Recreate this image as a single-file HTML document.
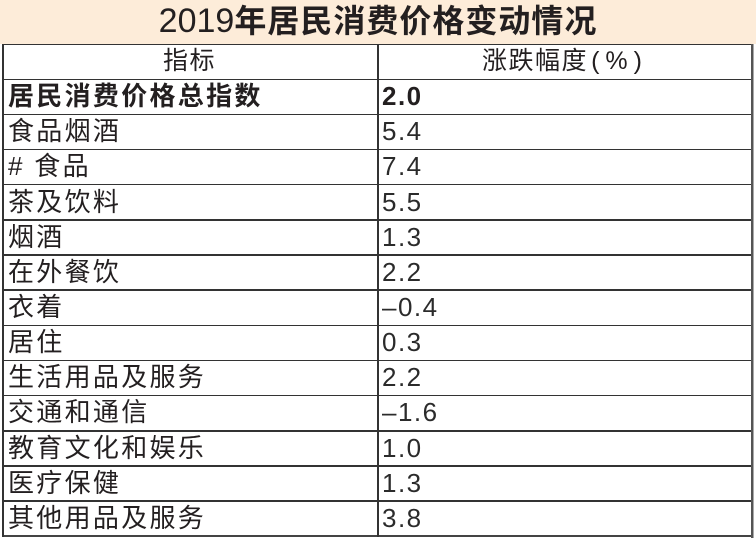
<!DOCTYPE html>
<html>
<head>
<meta charset="utf-8">
<style>
  html,body{margin:0;padding:0;background:#fff;}
  #c{position:relative;width:756px;height:541px;overflow:hidden;background:#fff;
     font-family:"Liberation Sans","Noto Sans CJK SC",sans-serif;color:#231f20;}
  .title{position:absolute;left:0;top:0;width:756px;height:44px;background:#fdecd9;}
  .title span.t{position:absolute;left:0;width:756px;top:-1px;height:44px;line-height:44px;text-align:center;
     font-size:32px;font-weight:bold;letter-spacing:1px;}
  .title span.t b{font-weight:normal;font-size:34px;letter-spacing:0;}
  .h{position:absolute;background:#333;height:1.5px;}
  .v{position:absolute;background:#333;width:1.5px;}
  .cell{position:absolute;height:35px;line-height:35px;white-space:nowrap;font-size:26px;letter-spacing:2.3px;}
  .val{position:absolute;height:35px;line-height:35px;white-space:nowrap;font-size:26px;letter-spacing:1.5px;color:#2b2b2b;left:382px;}
  .hd{position:absolute;top:44px;height:35px;line-height:35px;font-size:25px;text-align:center;letter-spacing:1.5px;}
</style>
</head>
<body>
<div id="c">
  <div class="title"><span class="t"><b>2019</b>年居民消费价格变动情况</span></div>

  <!-- grid lines -->
  <div class="h" style="left:2px;width:751px;top:43.5px;"></div>
  <div class="h" style="left:2px;width:751px;top:78.5px;"></div>
  <div class="h" style="left:2px;width:751px;top:113.6px;"></div>
  <div class="h" style="left:2px;width:751px;top:148.8px;"></div>
  <div class="h" style="left:2px;width:751px;top:183.9px;"></div>
  <div class="h" style="left:2px;width:751px;top:219.1px;"></div>
  <div class="h" style="left:2px;width:751px;top:254.2px;"></div>
  <div class="h" style="left:2px;width:751px;top:289.4px;"></div>
  <div class="h" style="left:2px;width:751px;top:324.5px;"></div>
  <div class="h" style="left:2px;width:751px;top:359.7px;"></div>
  <div class="h" style="left:2px;width:751px;top:394.8px;"></div>
  <div class="h" style="left:2px;width:751px;top:430px;"></div>
  <div class="h" style="left:2px;width:751px;top:465.1px;"></div>
  <div class="h" style="left:2px;width:751px;top:500.3px;"></div>
  <div class="h" style="left:2px;width:752px;top:535.2px;height:2px;background:#444;"></div>
  <div class="v" style="left:2px;top:43.5px;height:493px;"></div>
  <div class="v" style="left:377px;top:43.5px;height:493px;"></div>
  <div class="v" style="left:751px;top:43.5px;height:494px;width:2px;background:#555;"></div>
  <div class="v" style="left:753px;top:44px;height:494px;width:1px;background:#aaa;"></div>

  <!-- header -->
  <div class="hd" style="left:2px;width:375px;">指标</div>
  <div class="hd" style="left:377px;width:376px;">涨跌幅度<span style="font-family:'Liberation Sans',sans-serif;letter-spacing:6px;margin-left:3px;">(%)</span></div>

  <!-- rows -->
  <div class="cell" style="left:8px;top:79px;font-weight:bold;">居民消费价格总指数</div>
  <div class="val" style="top:79px;font-weight:bold;color:#231f20;">2.0</div>

  <div class="cell" style="left:8px;top:114.2px;">食品烟酒</div>
  <div class="val" style="top:114.2px;">5.4</div>

  <div class="cell" style="left:8px;top:149.3px;"># 食品</div>
  <div class="val" style="top:149.3px;">7.4</div>

  <div class="cell" style="left:8px;top:184.5px;">茶及饮料</div>
  <div class="val" style="top:184.5px;">5.5</div>

  <div class="cell" style="left:8px;top:219.6px;">烟酒</div>
  <div class="val" style="top:219.6px;">1.3</div>

  <div class="cell" style="left:8px;top:254.8px;">在外餐饮</div>
  <div class="val" style="top:254.8px;">2.2</div>

  <div class="cell" style="left:8px;top:289.9px;">衣着</div>
  <div class="val" style="top:289.9px;">–0.4</div>

  <div class="cell" style="left:8px;top:325.1px;">居住</div>
  <div class="val" style="top:325.1px;">0.3</div>

  <div class="cell" style="left:8px;top:360.2px;">生活用品及服务</div>
  <div class="val" style="top:360.2px;">2.2</div>

  <div class="cell" style="left:8px;top:395.4px;">交通和通信</div>
  <div class="val" style="top:395.4px;">–1.6</div>

  <div class="cell" style="left:8px;top:430.5px;">教育文化和娱乐</div>
  <div class="val" style="top:430.5px;">1.0</div>

  <div class="cell" style="left:8px;top:465.7px;">医疗保健</div>
  <div class="val" style="top:465.7px;">1.3</div>

  <div class="cell" style="left:8px;top:500.8px;">其他用品及服务</div>
  <div class="val" style="top:500.8px;">3.8</div>
</div>
</body>
</html>
